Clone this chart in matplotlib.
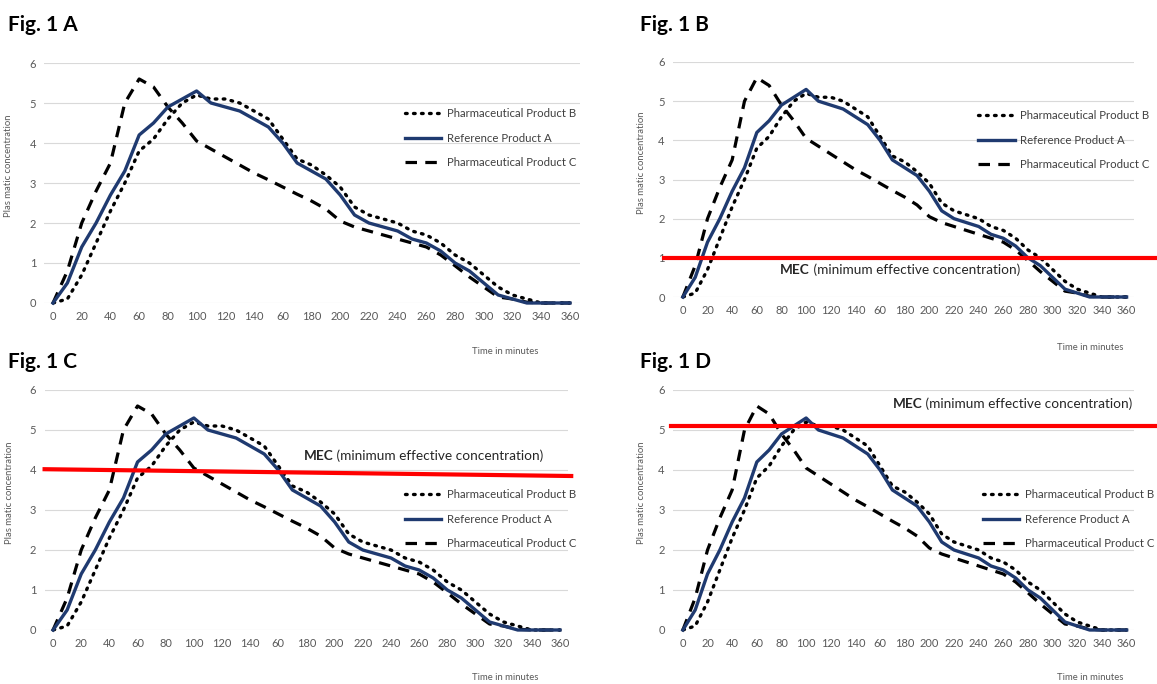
#!/usr/bin/env python3
"""
Fig. 1 A-D: curvas de concentración plasmática de tres productos
con distintos niveles de MEC (minimum effective concentration).
"""

import matplotlib
matplotlib.use("Agg")
import matplotlib.pyplot as plt

plt.rcParams["font.family"] = ["Lato", "DejaVu Sans"]

# === Datos ===
TIME = list(range(0, 361, 10))

PRODUCT_B = [0.0, 0.1, 0.7, 1.5, 2.3, 3.0, 3.8, 4.1, 4.6, 5.0, 5.2, 5.1, 5.1,
             5.0, 4.8, 4.6, 4.1, 3.6, 3.45, 3.2, 2.9, 2.4, 2.2, 2.1, 2.0, 1.8,
             1.7, 1.5, 1.2, 1.0, 0.7, 0.4, 0.2, 0.1, 0.0, 0.0, 0.0]
REFERENCE_A = [0.0, 0.5, 1.4, 2.0, 2.7, 3.3, 4.2, 4.5, 4.9, 5.1, 5.3, 5.0, 4.9,
               4.8, 4.6, 4.4, 4.0, 3.5, 3.3, 3.1, 2.7, 2.2, 2.0, 1.9, 1.8, 1.6,
               1.5, 1.3, 1.0, 0.8, 0.5, 0.2, 0.1, 0.0, 0.0, 0.0, 0.0]
PRODUCT_C = [0.0, 0.8, 2.0, 2.8, 3.5, 5.0, 5.6, 5.4, 4.9, 4.5, 4.05, 3.85, 3.65,
             3.45, 3.25, 3.08, 2.9, 2.72, 2.55, 2.35, 2.05, 1.9, 1.8, 1.7, 1.6,
             1.5, 1.4, 1.2, 0.93, 0.65, 0.4, 0.15, 0.1, 0.02, 0.0, 0.0, 0.0]

X_TICKS = list(range(0, 361, 20))
X_TICK_LABELS = ["0", "20", "40", "60", "80", "100", "120", "140", "60", "180",
                 "200", "220", "240", "260", "280", "300", "320", "340", "360"]
Y_TICKS = [0, 1, 2, 3, 4, 5, 6]

# MEC: (nivel al inicio, nivel al final) por panel
MEC_LEVELS = {"A": None, "B": (1.0, 1.0), "C": (4.02, 3.85), "D": (5.1, 5.1)}

LABEL_B = "Pharmaceutical Product B"
LABEL_A = "Reference Product A"
LABEL_C = "Pharmaceutical Product C"

# === Layout (pixeles) ===
W, H = 1157, 684
NAVY = "#1F3A70"
GRID = "#D9D9D9"
TEXT_GRAY = "#595959"

PANELS = {
    "A": dict(box=(44.4, 63, 580, 303), xlim=(-6, 367), leg=(0.673, 0.8125),
              mec_x=None, title=(8, 25), xlabel=(505, 352)),
    "B": dict(box=(673, 62, 1134, 297), xlim=(-8, 366), leg=(0.662, 0.796),
              mec_xy=(79, 0.69), mec_x=(-15, 400), title=(640, 25), xlabel=(1090, 347)),
    "C": dict(box=(44.6, 390, 568.4, 630), xlim=(-6, 366), leg=(0.688, 0.5875),
              mec_xy=(178, 4.35), mec_x=(-6, 368), title=(8, 362), xlabel=(505, 678)),
    "D": dict(box=(673, 390, 1134, 630), xlim=(-8, 366), leg=(0.672, 0.5875),
              mec_xy=(170, 5.65), mec_x=(-10, 400), title=(640, 362), xlabel=(1090, 678)),
}


def px_rect(left, top, right, bottom):
    """Convierte una caja en pixeles a fracciones de figura."""
    return [left / W, 1 - bottom / H, (right - left) / W, (bottom - top) / H]


def draw_panel(fig, name, cfg):
    ax = fig.add_axes(px_rect(*cfg["box"]))

    ax.plot(TIME, PRODUCT_B, color="black", linewidth=2.4,
            linestyle=(0, (0.5, 1.9)), dash_capstyle="round",
            label=LABEL_B, clip_on=False, zorder=3)
    ax.plot(TIME, REFERENCE_A, color=NAVY, linewidth=2.4,
            label=LABEL_A, clip_on=False, zorder=4)
    ax.plot(TIME, PRODUCT_C, color="black", linewidth=2.3,
            linestyle=(0, (3.6, 2.6)), label=LABEL_C, clip_on=False, zorder=3)

    ax.set_xlim(*cfg["xlim"])
    ax.set_ylim(0, 6)
    ax.set_xticks(X_TICKS)
    ax.set_xticklabels(X_TICK_LABELS)
    ax.set_yticks(Y_TICKS)
    ax.tick_params(length=0, labelsize=8, labelcolor=TEXT_GRAY, pad=6)
    for s in ax.spines.values():
        s.set_visible(False)
    ax.grid(True, axis="y", color=GRID, linewidth=0.8)
    ax.set_axisbelow(True)

    ax.set_ylabel("Plas matic concentration", fontsize=6.8, color=TEXT_GRAY)
    ax.yaxis.set_label_coords(-0.058, 0.57)

    ax.legend(loc="upper left", bbox_to_anchor=cfg["leg"], frameon=False,
              borderpad=0, borderaxespad=0, handlelength=3.2,
              handletextpad=0.5, labelspacing=1.2, fontsize=8.2,
              labelcolor="#404040")

    # Línea MEC
    mec = MEC_LEVELS[name]
    if mec is not None:
        ax.plot(cfg["mec_x"], mec, color="#FF0000", linewidth=3.0,
                clip_on=False, zorder=5)
        t1 = ax.text(cfg["mec_xy"][0], cfg["mec_xy"][1], "MEC",
                     fontsize=9.8, fontweight="bold", color="#262626",
                     va="center", ha="left")
        ax.annotate(" (minimum effective concentration)", xy=(1, 0.5),
                    xycoords=t1, va="center", ha="left",
                    fontsize=9.8, color="#262626")

    fig.text(cfg["title"][0] / W, 1 - cfg["title"][1] / H, f"Fig. 1 {name}",
             fontsize=15, fontweight="bold", ha="left", va="center")
    fig.text(cfg["xlabel"][0] / W, 1 - cfg["xlabel"][1] / H, "Time in minutes",
             fontsize=6.8, color=TEXT_GRAY, ha="center", va="center")
    return ax


if __name__ == "__main__":
    fig = plt.figure(figsize=(W / 100, H / 100), dpi=100)
    for name, cfg in PANELS.items():
        draw_panel(fig, name, cfg)
    plt.savefig("out.png", dpi=100)
